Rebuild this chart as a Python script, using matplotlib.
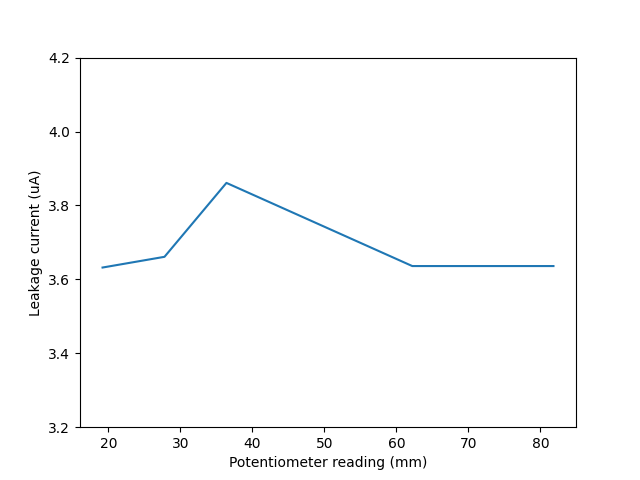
import matplotlib
matplotlib.use("Agg")
import matplotlib.pyplot as plt

# potentiometer reading vs leakage current
position_mm = [19.2, 27.8, 36.4, 62.2, 81.8]
leakage_uA = [3.632, 3.661, 3.861, 3.636, 3.636]

fig, ax = plt.subplots(figsize=(6.4, 4.8), dpi=100)
ax.plot(position_mm, leakage_uA)
ax.set_ylim(3.2, 4.2)
ax.set_xlabel("Potentiometer reading (mm)")
ax.set_ylabel("Leakage current (uA)")

fig.savefig("out.png")
